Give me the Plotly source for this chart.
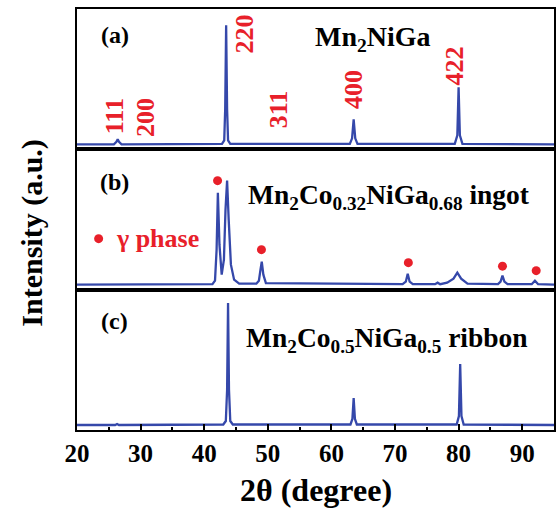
import plotly.graph_objects as go
from plotly.subplots import make_subplots

# ---- data (y = height above panel bottom, arbitrary units) ----
x_a = [20, 25.8, 26.2, 26.4, 26.6, 27.0, 42.8, 43.15, 43.3, 43.45, 43.6, 43.75, 44.1,
       62.9, 63.25, 63.5, 63.75, 64.1, 79.4, 79.8, 80.0, 80.2, 80.6, 95]
y_a = [5, 5, 7.5, 10, 7.5, 5, 5.5, 9, 40, 124, 40, 9, 5.5,
       5.5, 11, 30, 11, 5.5, 5.5, 14, 62, 14, 5.5, 5]

x_b = [20, 41.3, 41.7, 41.95, 42.15, 42.4, 42.75, 43.1, 43.35, 43.6, 43.85, 44.2, 44.7, 45.5,
       48.2, 48.6, 48.85, 49.05, 49.3, 49.7, 71.2, 71.7, 72.0, 72.3, 72.8,
       76.3, 76.7, 77.1, 78.2, 79.2, 79.8, 80.4, 81.4,
       86.2, 86.6, 86.9, 87.2, 87.7, 91.5, 92.0, 92.5, 95]
y_b = [5, 5.5, 9, 40, 97, 45, 15, 30, 80, 109, 70, 25, 10, 6,
       6, 9, 20, 28, 15, 6.5, 5.5, 8, 16, 8, 5.5,
       5.5, 7, 5.5, 7, 11, 17, 11, 6,
       5.5, 8, 14, 8, 5.5, 5.5, 9, 5.5, 5]

x_c = [20, 26.0, 26.3, 26.6, 43.0, 43.4, 43.6, 43.75, 43.9, 44.1, 44.5,
       63.0, 63.3, 63.5, 63.7, 64.0, 79.7, 80.05, 80.25, 80.45, 80.8, 95]
y_c = [5, 5, 6, 5, 5.5, 9, 40, 127, 40, 9, 5.5,
       5.5, 11, 32, 11, 5.5, 5.5, 14, 66, 14, 5.5, 5]

gamma_x = [42.1, 49.0, 72.1, 86.9, 92.2]
gamma_y = [109, 40, 27, 23.5, 19]

hkl_labels = ["111", "200", "220", "311", "400", "422"]
hkl_x = [25.8, 30.8, 46.3, 51.6, 63.5, 79.3]
hkl_y = [33, 32, 115, 40, 60, 83]

x_ticks = [20, 30, 40, 50, 60, 70, 80, 90]

# ---- style ----
BLUE = "#3548aa"
RED = "#e8202a"
FONT = "Times New Roman, Liberation Serif, DejaVu Serif, serif"

fig = make_subplots(rows=3, cols=1, shared_xaxes=True, vertical_spacing=0)
for i, (xs, ys) in enumerate([(x_a, y_a), (x_b, y_b), (x_c, y_c)], start=1):
    fig.add_trace(go.Scatter(x=xs, y=ys, mode="lines",
                             line=dict(color=BLUE, width=2.3), showlegend=False,
                             hoverinfo="skip"), row=i, col=1)

fig.add_trace(go.Scatter(x=gamma_x, y=gamma_y, mode="markers",
                         marker=dict(color=RED, size=9), showlegend=False), row=2, col=1)
fig.add_trace(go.Scatter(x=[23.4], y=[51], mode="markers",
                         marker=dict(color=RED, size=9), showlegend=False), row=2, col=1)

YR = [0, 140.33]
for i in range(1, 4):
    fig.update_yaxes(range=YR, showline=True, mirror=True, linecolor="black", linewidth=2,
                     showticklabels=False, ticks="", showgrid=False, zeroline=False,
                     row=i, col=1)
    fig.update_xaxes(range=[20, 95], showline=True, mirror=True, linecolor="black",
                     linewidth=2, showgrid=False, zeroline=False, row=i, col=1)

fig.update_xaxes(ticks="", showticklabels=False, row=1, col=1)
fig.update_xaxes(ticks="", showticklabels=False, row=2, col=1)
fig.update_xaxes(tickvals=x_ticks, ticktext=["<b>%d</b>" % v for v in x_ticks],
                 ticks="inside", ticklen=6, tickwidth=2, tickcolor="black",
                 minor=dict(dtick=5, tick0=25, ticks="inside", ticklen=3, tickwidth=1.5,
                            tickcolor="black"),
                 tickfont=dict(family=FONT, size=25, color="black"),
                 row=3, col=1)

def ann(text, x, y, xref, yref, size, color="black", angle=0, xanchor="center"):
    fig.add_annotation(text="<b>" + text + "</b>", x=x, y=y, xref=xref, yref=yref,
                       showarrow=False, textangle=angle, xanchor=xanchor, yanchor="middle",
                       font=dict(family=FONT, size=size, color=color))

ann("(a)", 25.9, 114, "x", "y", 24)
ann("(b)", 25.9, 107.5, "x2", "y2", 24)
ann("(c)", 25.9, 109, "x3", "y3", 24)
ann("Mn<sub>2</sub>NiGa", 66.6, 111, "x", "y", 28)
ann("Mn<sub>2</sub>Co<sub>0.32</sub>NiGa<sub>0.68</sub> ingot", 46.6, 93, "x2", "y2", 27.5,
    xanchor="left")
ann("Mn<sub>2</sub>Co<sub>0.5</sub>NiGa<sub>0.5</sub> ribbon", 46.3, 90, "x3", "y3", 27.5,
    xanchor="left")
ann("γ phase", 25.8, 51, "x2", "y2", 26, color=RED, xanchor="left")
for t, hx, hy in zip(hkl_labels, hkl_x, hkl_y):
    ann(t, hx, hy, "x", "y", 26, color=RED, angle=-90)

ann("Intensity (a.u.)", -0.095, 0.468, "paper", "paper", 30, angle=-90)
ann("2θ (degree)", 0.5, -0.143, "paper", "paper", 32)

fig.update_layout(width=557, height=511, margin=dict(l=77, r=1, t=9, b=81),
                  plot_bgcolor="white", paper_bgcolor="white",
                  font=dict(family=FONT))
fig.write_html("out.html")
